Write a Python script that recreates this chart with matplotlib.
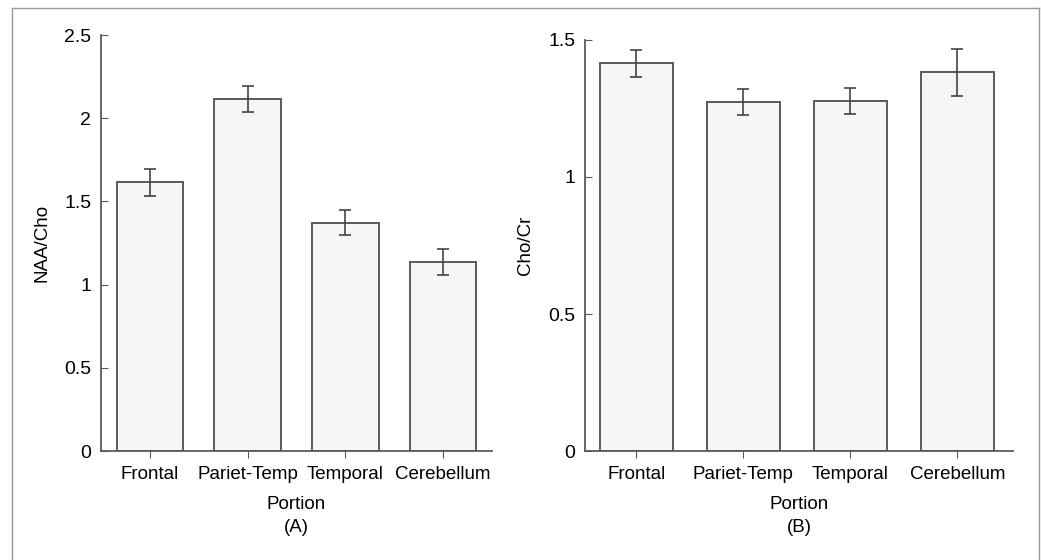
import matplotlib.pyplot as plt
import numpy as np

plt.rcParams['font.family'] = ['Liberation Sans', 'DejaVu Sans']

portions = ["Frontal", "Pariet-Temp", "Temporal", "Cerebellum"]

naa_cho = [1.615, 2.115, 1.372, 1.136]
naa_cho_err = [0.08, 0.078, 0.076, 0.076]

cho_cr = [1.415, 1.274, 1.277, 1.382]
cho_cr_err = [0.05, 0.048, 0.047, 0.086]

edge = "#5a5a5a"
fill = "#f6f6f6"

fig = plt.figure(figsize=(10.41, 5.6), dpi=100)

# thin frame round the picture (left, top, right only)
fig.add_artist(plt.Line2D([0.0115, 0.0115], [0, 0.986], color="#999999", lw=1.0))
fig.add_artist(plt.Line2D([0.0115, 0.998], [0.986, 0.986], color="#999999", lw=1.0))
fig.add_artist(plt.Line2D([0.998, 0.998], [0, 0.986], color="#999999", lw=1.0))

axA = fig.add_axes([0.097, 0.1946, 0.3756, 0.9375 - 0.1946])
axB = fig.add_axes([0.562, 0.1946, 0.411, 0.9286 - 0.1946])


def draw(ax, vals, errs, ylabel, letter, ylim, yticks, yticklabels, xlim):
    x = np.arange(len(portions))
    ax.bar(x, vals, width=0.68, color=fill, edgecolor=edge, linewidth=1.4)
    ax.errorbar(x, vals, yerr=errs, fmt="none", ecolor="#444444",
                elinewidth=1.2, capsize=4, capthick=1.2)
    ax.set_xlim(*xlim)
    ax.set_ylim(*ylim)
    ax.set_yticks(yticks)
    ax.set_yticklabels(yticklabels)
    ax.set_xticks(x)
    ax.set_xticklabels(portions)
    for s in ["top", "right"]:
        ax.spines[s].set_visible(False)
    for s in ["left", "bottom"]:
        ax.spines[s].set_color(edge)
        ax.spines[s].set_linewidth(1.3)
    ax.tick_params(axis="y", direction="in", length=5, color=edge,
                   labelsize=14, pad=7)
    ax.tick_params(axis="x", direction="out", length=5, color=edge,
                   labelsize=13.5, pad=6)
    ax.set_ylabel(ylabel, fontsize=13.5, labelpad=10)
    ax.set_xlabel("Portion\n(" + letter + ")", fontsize=13.5, labelpad=9,
                  linespacing=1.5)


draw(axA, naa_cho, naa_cho_err, "NAA/Cho", "A", (0, 2.5),
     [0, 0.5, 1, 1.5, 2, 2.5], ["0", "0.5", "1", "1.5", "2", "2.5"],
     (-0.5, 3.5))
draw(axB, cho_cr, cho_cr_err, "Cho/Cr", "B", (0, 1.5),
     [0, 0.5, 1, 1.5], ["0", "0.5", "1", "1.5"],
     (-0.48, 3.52))

fig.savefig("out.png", dpi=100)
